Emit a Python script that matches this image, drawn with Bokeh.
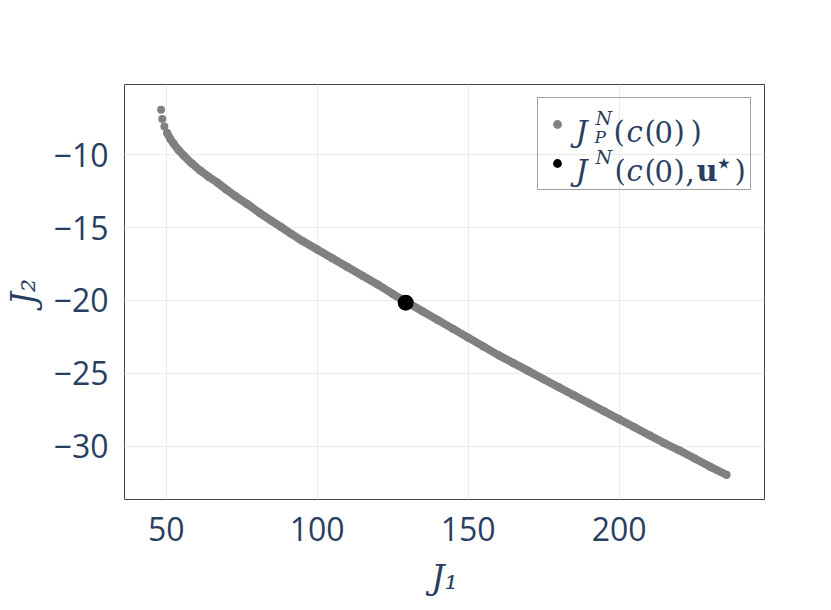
from bokeh.plotting import figure
from bokeh.models import Range1d, FixedTicker, Legend, LegendItem, ColumnDataSource
from bokeh.embed import file_html
from bokeh.resources import INLINE

# ---------------- data ----------------
j1_front = [48.3, 48.7, 49.4, 50.3, 51.3, 52.5, 54.0, 55.8, 58.5, 61.4,
            64.0, 66.9, 70.0, 73.0, 77.0, 81.0, 85.0, 88.0, 91.2, 95.0,
            100.0, 105.0, 110.0, 115.0, 120.0, 125.0, 130.0, 135.0, 140.0, 145.0,
            150.0, 155.0, 160.0, 165.0, 170.0, 175.0, 180.0, 185.0, 190.0, 195.0,
            200.0, 205.0, 210.0, 215.0, 220.0, 225.0, 230.0, 235.5]
j2_front = [-6.9, -7.55, -8.05, -8.5, -8.9, -9.25, -9.65, -10.05, -10.6, -11.1,
            -11.5, -11.9, -12.4, -12.85, -13.4, -14.0, -14.55, -14.95, -15.4, -15.9,
            -16.5, -17.1, -17.7, -18.3, -18.9, -19.55, -20.15, -20.75, -21.35, -21.95,
            -22.55, -23.15, -23.75, -24.3, -24.85, -25.4, -25.95, -26.5, -27.05, -27.6,
            -28.15, -28.7, -29.25, -29.8, -30.3, -30.85, -31.4, -31.96]
j1_star = [129.3]
j2_star = [-20.15]

x_ticks = [50, 100, 150, 200]
y_ticks = [-30, -25, -20, -15, -10]
y_tick_labels = ["\u221230", "\u221225", "\u221220", "\u221215", "\u221210"]
x_title = "J\u2081"
y_title = "J\u2082"

# ---------------- style ----------------
TEXT = "#2a3f5f"
GRAY = "#808080"
X_RANGE = (36.19, 248.11)
Y_RANGE = (-33.66, -5.175)
FRAME_LEFT, FRAME_TOP, FRAME_W, FRAME_H = 124, 84, 640, 415  # page pixels


def to_data(px, py):
    x = X_RANGE[0] + (px - FRAME_LEFT) / FRAME_W * (X_RANGE[1] - X_RANGE[0])
    y = Y_RANGE[1] - (py - FRAME_TOP) / FRAME_H * (Y_RANGE[1] - Y_RANGE[0])
    return x, y


p = figure(frame_width=FRAME_W, frame_height=FRAME_H,
           x_range=Range1d(*X_RANGE), y_range=Range1d(*Y_RANGE),
           output_backend="svg", toolbar_location=None,
           min_border_left=FRAME_LEFT, min_border_right=59,
           min_border_top=FRAME_TOP, min_border_bottom=103)

p.background_fill_color = "white"
p.border_fill_color = "white"
p.outline_line_color = "#444444"
p.outline_line_width = 1

# grid
p.xgrid.ticker = FixedTicker(ticks=x_ticks)
p.ygrid.ticker = FixedTicker(ticks=y_ticks)
p.grid.grid_line_color = "#ebebeb"
p.grid.grid_line_width = 1

# axes
p.xaxis.ticker = FixedTicker(ticks=x_ticks)
p.yaxis.ticker = FixedTicker(ticks=y_ticks)
p.yaxis.major_label_overrides = {t: l for t, l in zip(y_ticks, y_tick_labels)}
for ax in (p.xaxis, p.yaxis):
    ax.axis_line_color = None
    ax.major_tick_line_color = None
    ax.minor_tick_line_color = None
    ax.major_label_text_font = "Open Sans"
    ax.major_label_text_font_size = "32px"
    ax.major_label_text_color = TEXT
    ax.axis_label_text_font = "DejaVu Serif"
    ax.axis_label_text_font_style = "italic"
    ax.axis_label_text_font_size = "33px"
    ax.axis_label_text_color = TEXT
p.xaxis.major_label_standoff = 11
p.yaxis.major_label_standoff = 10
p.xaxis.axis_label = x_title
p.yaxis.axis_label = y_title
p.xaxis.axis_label_standoff = 14
p.yaxis.axis_label_standoff = 8

# data marks
p.line(j1_front[3:], j2_front[3:], line_color=GRAY, line_width=8, line_cap="round")
r_front = p.scatter(j1_front, j2_front, size=8, fill_color=GRAY, line_color=None)
r_star = p.scatter(j1_star, j2_star, size=16, fill_color="black", line_color=None)

legend = Legend(items=[LegendItem(label=" ", renderers=[r_front]),
                       LegendItem(label=" ", renderers=[r_star])],
                location="top_right", margin=13, padding=8, spacing=3,
                glyph_width=22, glyph_height=36, label_width=169, label_height=36,
                label_standoff=5, border_line_color="#444444", border_line_width=1,
                background_fill_alpha=0.0)
p.add_layout(legend)

# legend math text pieces: (text, page x, page baseline y, size, style, font)
pieces = [
    ("J", 575, 131, 30, "italic", "DejaVu Serif"),
    ("N", 595, 117, 19, "italic", "DejaVu Serif"),
    ("P", 594, 136, 17, "italic", "DejaVu Serif"),
    ("(", 613, 131, 29, "normal", "DejaVu Serif"),
    ("c", 626, 131, 29, "italic", "DejaVu Serif"),
    ("(", 644, 131, 29, "normal", "DejaVu Serif"),
    ("0", 654, 131, 29, "normal", "DejaVu Serif"),
    (")", 673, 131, 29, "normal", "DejaVu Serif"),
    (")", 690, 131, 29, "normal", "DejaVu Serif"),
    ("J", 575, 170, 30, "italic", "DejaVu Serif"),
    ("N", 595, 156, 19, "italic", "DejaVu Serif"),
    ("(", 614, 170, 29, "normal", "DejaVu Serif"),
    ("c", 626, 170, 29, "italic", "DejaVu Serif"),
    ("(", 644, 170, 29, "normal", "DejaVu Serif"),
    ("0", 654, 170, 29, "normal", "DejaVu Serif"),
    (")", 673, 170, 29, "normal", "DejaVu Serif"),
    (",", 685, 170, 29, "normal", "DejaVu Serif"),
    ("u", 696, 170, 29, "bold", "DejaVu Serif"),
    ("\u22c6", 714, 162, 30, "normal", "DejaVu Sans"),
    (")", 734, 170, 29, "normal", "DejaVu Serif"),
]
src = ColumnDataSource(dict(
    x=[to_data(px, py)[0] for _, px, py, _, _, _ in pieces],
    y=[to_data(px, py)[1] for _, px, py, _, _, _ in pieces],
    text=[t for t, *_ in pieces],
    size=[f"{s}px" for _, _, _, s, _, _ in pieces],
    style=[st for _, _, _, _, st, _ in pieces],
    font=[f for *_, f in pieces],
))
p.text(x="x", y="y", text="text", source=src, text_font="font",
       text_font_size="size", text_font_style="style", text_color=TEXT,
       text_align="left", text_baseline="alphabetic")

open("out.html", "w").write(file_html(p, INLINE))
